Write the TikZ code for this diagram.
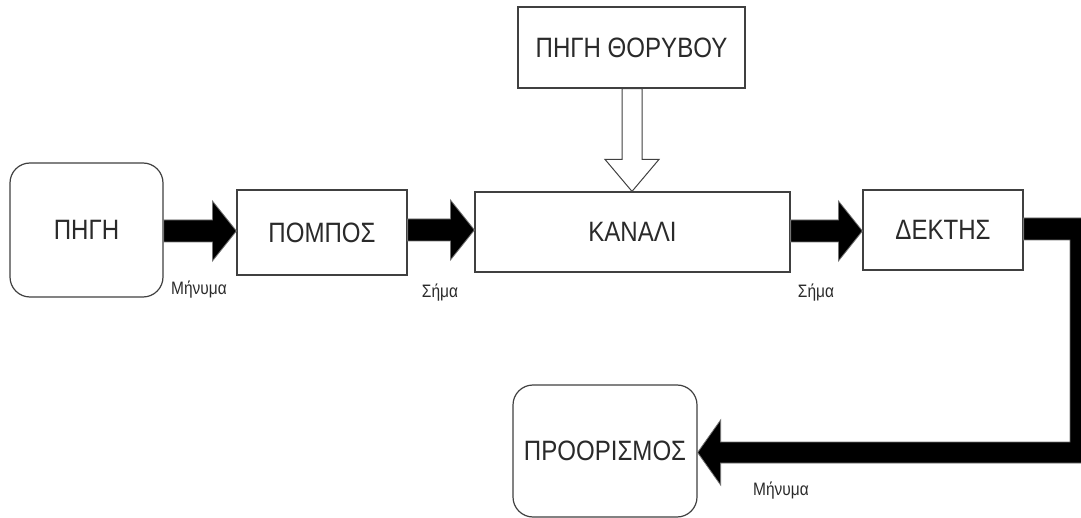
\documentclass[tikz,border=0pt]{standalone}
\usepackage{fontspec}
\setmainfont{Liberation Sans}[FakeStretch=0.86]
\usetikzlibrary{calc}
\definecolor{edge}{HTML}{404040}
\definecolor{txt}{HTML}{2A2A2A}
\tikzset{
  blk/.style={draw=edge, line width=1.2pt, fill=white, text=txt, inner sep=0pt,
    font=\fontsize{28}{30}\selectfont},
  rbox/.style={blk, rounded corners=20pt},
  lbl/.style={text=txt, inner sep=0pt, font=\fontsize{18}{20}\selectfont},
  fat/.style={fill=black, draw=black!55, line width=0.8pt, line join=miter},
  hollow/.style={fill=white, draw=edge, line width=1pt, line join=miter}
}
\newcommand{\harrow}[2]{%
  \path[fat] ($(#1)+(0,-11)$) -- ($(#2)+(-24,-11)$) -- ($(#2)+(-24,-30)$) -- (#2)
    -- ($(#2)+(-24,30)$) -- ($(#2)+(-24,11)$) -- ($(#1)+(0,11)$) -- cycle;}
\begin{document}
\begin{tikzpicture}[x=1pt,y=-1pt]
\useasboundingbox (0,0) rectangle (1081,518);
\clip (0,0) rectangle (1081,518);
% nodes
\node[rbox, minimum width=153pt, minimum height=134pt] (src) at (86.5,230) {ΠΗΓΗ};
\node[blk, minimum width=170pt, minimum height=85pt] (tx) at (322,232.5) {ΠΟΜΠΟΣ};
\node[blk, minimum width=315pt, minimum height=80pt] (ch) at (632.5,232) {ΚΑΝΑΛΙ};
\node[blk, minimum width=227pt, minimum height=81pt] (noise) at (631.5,47.5) {ΠΗΓΗ ΘΟΡΥΒΟΥ};
\node[blk, minimum width=160pt, minimum height=80pt] (rx) at (943,230) {ΔΕΚΤΗΣ};
\node[rbox, minimum width=184pt, minimum height=132pt] (dst) at (605,451) {ΠΡΟΟΡΙΣΜΟΣ};
% connector end points
\coordinate (a1s) at (src.east |- 0,231);
\coordinate (a1e) at (tx.west |- 0,231);
\coordinate (a2s) at (tx.east |- 0,230);
\coordinate (a2e) at (ch.west |- 0,230);
\coordinate (a3s) at (ch.east |- 0,231);
\coordinate (a3e) at (rx.west |- 0,231);
\harrow{a1s}{a1e}
\harrow{a2s}{a2e}
\harrow{a3s}{a3e}
% noise arrow (hollow)
\coordinate (ns) at (noise.south -| 632,0);
\coordinate (ne) at (ch.north -| 632,0);
\path[hollow] ($(ns)+(-10,0)$) -- ($(ne)+(-10,-32)$) -- ($(ne)+(-27,-32)$) -- (ne)
  -- ($(ne)+(27,-32)$) -- ($(ne)+(10,-32)$) -- ($(ns)+(10,0)$) -- cycle;
% receiver to destination (L-shaped)
\coordinate (ls) at (rx.east |- 0,229);
\coordinate (le) at (dst.east |- 0,452.5);
\path[fat] ($(ls)+(0,-11)$) -- (1092,218) -- (1092,463) -- ($(le)+(23,10.5)$)
  -- ($(le)+(23,32.5)$) -- (le) -- ($(le)+(23,-32.5)$) -- ($(le)+(23,-10.5)$)
  -- (1070,442) -- (1070,240) -- ($(ls)+(0,11)$) -- cycle;
% labels
\node[lbl] (m1) at (199,290) {Μήνυμα};
\node[lbl] (s1) at (440,293) {Σήμα};
\node[lbl] (s2) at (816,293) {Σήμα};
\node[lbl] (m2) at (781,491) {Μήνυμα};
\end{tikzpicture}
\end{document}
